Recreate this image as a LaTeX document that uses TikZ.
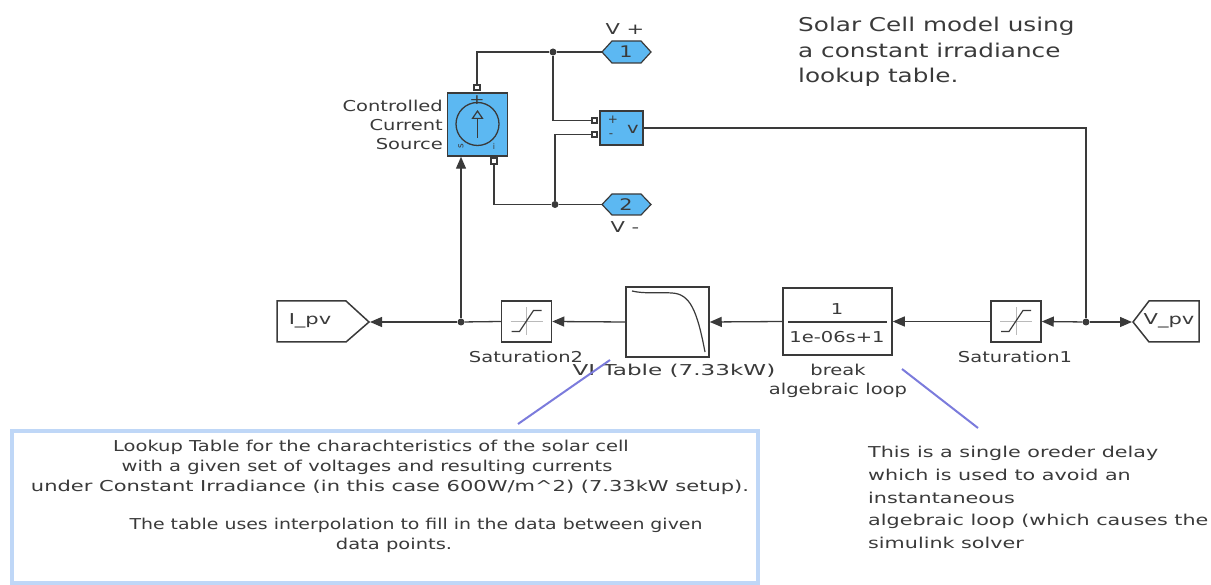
\documentclass[tikz,border=0pt]{standalone}
\usepackage{fontspec}
\setmainfont{DejaVu Sans}
\newfontfamily\widea[FakeStretch=1.3]{DejaVu Sans}
\newfontfamily\wideb[FakeStretch=1.4]{DejaVu Sans}
\newfontfamily\widee[FakeStretch=1.38]{DejaVu Sans}
\newfontfamily\widec[FakeStretch=1.54]{DejaVu Sans}
\newfontfamily\wided[FakeStretch=1.26]{DejaVu Sans}
\usetikzlibrary{arrows.meta,calc}
\definecolor{ink}{HTML}{3A3A3A}
\definecolor{simblue}{HTML}{5CB8F2}
\definecolor{noteline}{HTML}{7B7BDC}
\definecolor{notebox}{HTML}{BFD7F7}
\tikzset{
  wire/.style={draw=ink,line width=1.3pt},
  feed/.style={wire,-{Triangle[length=12pt,width=10pt]}},
  block/.style={draw=ink,line width=1.5pt,fill=white,inner sep=0pt,rectangle,text=ink},
  bluebk/.style={block,fill=simblue},
  port/.style={draw=ink,line width=1.6pt,fill=white,minimum size=5.5pt,inner sep=0pt,rectangle},
  junction/.style={circle,fill=ink,minimum size=7pt,inner sep=0pt},
  lbl/.style={text=ink,font=\widea\fontsize{15}{19}\selectfont,inner sep=0pt,align=center},
  note/.style={text=ink,font=\widea\fontsize{15}{20}\selectfont,inner sep=0pt},
  callout/.style={draw=noteline,line width=2pt},
  shapeline/.style={draw=ink,line width=1.5pt,fill=white},
  icon/.style={draw=ink,line width=1.2pt},
  cross/.style={draw=ink!35,line width=1pt}
}
\begin{document}
\begin{tikzpicture}[x=1pt,y=-1pt]
\useasboundingbox (0,0) rectangle (1211,585);
% note box
\node[draw=notebox,line width=4.5pt,fill=white,minimum width=746pt,minimum height=152pt,inner sep=0pt] (box) at (385,507) {};
% blocks
\node[bluebk,minimum width=60pt,minimum height=63pt] (ccs) at (477.5,124.5) {};
\node[bluebk,minimum width=43pt,minimum height=34pt] (vm) at (621.5,128) {};
\node[block,minimum width=50pt,minimum height=41pt] (sat2) at (526.5,321.5) {};
\node[block,minimum width=50pt,minimum height=41pt] (sat1) at (1016,321.5) {};
\node[block,minimum width=83pt,minimum height=70pt] (vit) at (667.5,322) {};
\node[block,minimum width=109pt,minimum height=67pt] (tf) at (837.5,321.5) {};
% hexagon ports
\draw[draw=ink,line width=1.2pt,fill=simblue] (602,52) -- (612,41) -- (641,41) -- (651,52) -- (641,63) -- (612,63) -- cycle;
\draw[draw=ink,line width=1.2pt,fill=simblue] (602,204.5) -- (612,194) -- (641,194) -- (651,204.5) -- (641,215) -- (612,215) -- cycle;
\coordinate (hexa) at (602,52);
\coordinate (hexb) at (602,204.5);
\node[text=ink,font=\widea\fontsize{16}{16}\selectfont,inner sep=0pt] (h1) at (626,52) {1};
\node[text=ink,font=\widea\fontsize{16}{16}\selectfont,inner sep=0pt] (h2) at (626,204.5) {2};
% in/out pentagons
\draw[shapeline] (277,301) -- (346,301) -- (369,322) -- (346,342) -- (277,342) -- cycle;
\draw[shapeline] (1133,322) -- (1149,301) -- (1199,301) -- (1199,342) -- (1149,342) -- cycle;
\coordinate (ipv) at (370,322);
\coordinate (vpv) at (1132,322);
\node[text=ink,font=\wideb\fontsize{15}{15}\selectfont,inner sep=0pt] (ipvt) at (310,321) {I\_pv};
\node[text=ink,font=\wideb\fontsize{15}{15}\selectfont,inner sep=0pt] (vpvt) at (1169,321) {V\_pv};
% ports
\node[port] (cp) at (477,87.5) {};
\node[port] (cn) at (494,161) {};
\node[port] (vp) at (594.5,120.5) {};
\node[port] (vn) at (594.5,134.5) {};
% junctions
\node[junction] (j1) at (553,52) {};
\node[junction] (j2) at (555,204.5) {};
\node[junction] (j3) at (461,322) {};
\node[junction] (j4) at (1086,322) {};
% wires
\draw[wire] (cp.north) |- (j1);
\draw[wire] (j1) -- (hexa);
\draw[wire] (j1) |- (vp.west);
\draw[wire] (cn.south) |- (j2);
\draw[wire] (j2) -- (hexb);
\draw[wire] (j2) |- (vn.west);
\draw[wire] (vm.east) -| (j4);
\draw[feed] (j4) -- (vpv);
\draw[feed] (j4) -- (sat1.east);
\draw[feed] (sat1.west) -- (tf.east);
\draw[feed] (tf.west) -- (vit.east);
\draw[feed] (vit.west) -- (sat2.east);
\draw[wire] (sat2.west) -- (j3);
\draw[feed] (j3) -- (ipv);
\draw[feed] (j3) -- (ccs.south -| j3);
% source icon
\node[circle,draw=ink,line width=1.3pt,minimum size=43pt,inner sep=0pt] (src) at (477.5,124) {};
\draw[icon,-{Triangle[open,length=9pt,width=12pt]}] (477.5,138) -- (477.5,110);
\node[text=ink,font=\widea\fontsize{14}{14}\selectfont,inner sep=0pt] (plus) at (477,100) {+};
\node[text=ink,font=\fontsize{9}{9}\selectfont,inner sep=0pt,rotate=90] (sg) at (461,146) {s};
\node[text=ink,font=\fontsize{8}{8}\selectfont,inner sep=0pt] (ig) at (494,146) {i};
% meter text
\node[text=ink,font=\fontsize{12}{12}\selectfont,inner sep=0pt] (mp) at (613,120) {+};
\node[text=ink,font=\fontsize{12}{12}\selectfont,inner sep=0pt] (mn) at (611,136) {-};
\node[text=ink,font=\widea\fontsize{15}{15}\selectfont,inner sep=0pt] (mv) at (633,129) {v};
% saturation icons
\foreach \n in {sat1,sat2}{
  \draw[cross] ($(\n.center)+(-16,0)$) -- ($(\n.center)+(16,0)$);
  \draw[cross] ($(\n.center)+(0,-14)$) -- ($(\n.center)+(0,14)$);
  \draw[icon] ($(\n.center)+(-15,10)$) -- ($(\n.center)+(-7,10)$) -- ($(\n.center)+(7,-11)$) -- ($(\n.center)+(15,-11)$);
}
% table curve
\draw[icon] (632,291) .. controls (645,294) and (655,292) .. (672,293) .. controls (690,294) and (697,310) .. (705,352);
% transfer fn
\draw[icon] (788,322) -- (887,322);
\node[lbl] (tfn) at (837,309) {1};
\node[lbl] (tfd) at (837,337) {1e-06s+1};
% labels
\node[lbl,align=right,anchor=east] (ccsl) at (443,125) {Controlled\\Current\\Source};
\node[lbl,font=\wideb\fontsize{15}{15}\selectfont] (vplus) at (625,29) {V +};
\node[lbl,font=\wideb\fontsize{15}{15}\selectfont] (vminus) at (625,227) {V -};
\node[lbl] (sat2l) at (526,357) {Saturation2};
\node[lbl] (sat1l) at (1015,357) {Saturation1};
\node[lbl,font=\widec\fontsize{15}{15}\selectfont] (vitl) at (674,371) {VI Table (7.33kW)};
\node[lbl] (tfl) at (838,380.5) {break\\algebraic loop};
% callouts
\coordinate (ca1) at (610,360);
\coordinate (ca2) at (518,424);
\coordinate (cb1) at (902,369);
\coordinate (cb2) at (978,428);
\draw[callout] (ca1) -- (ca2);
\draw[callout] (cb1) -- (cb2);
% texts
\node[note,align=left,anchor=north west,font=\widea\fontsize{19}{25.5}\selectfont] (title) at (798,17) {Solar Cell model using\\a constant irradiance\\lookup table.};
\node[note] (bt1) at (371,447) {Lookup Table for the charachteristics of the solar cell};
\node[note] (bt2) at (367,467) {with a given set of voltages and resulting currents};
\node[note,font=\wideb\fontsize{15}{20}\selectfont] (bt3) at (390,487) {under Constant Irradiance (in this case 600W/m\textasciicircum2) (7.33kW setup).};
\node[note,font=\wided\fontsize{15}{20}\selectfont] (bt4) at (416,525) {The table uses interpolation to fill in the data between given};
\node[note] (bt5) at (394,545) {data points.};
\node[note,align=left,anchor=north west,font=\widee\fontsize{15}{22.8}\selectfont] (delay) at (868,446) {This is a single oreder delay\\which is used to avoid an\\instantaneous\\algebraic loop (which causes the\\simulink solver};
\end{tikzpicture}
\end{document}
